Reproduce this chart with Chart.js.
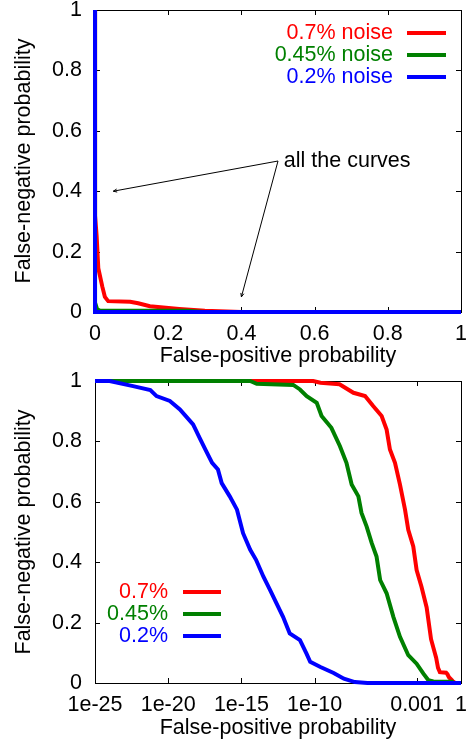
<!DOCTYPE html>
<html lang="en">
<head>
<meta charset="UTF-8">
<title>False-negative vs false-positive probability</title>
<script src="https://cdn.jsdelivr.net/npm/chart.js"></script>
<style>
  body { margin: 0; background: #fff; }
  canvas { display: block; }
</style>
</head>
<body>
<canvas id="linChart" width="473" height="370"></canvas>
<canvas id="logChart" width="473" height="372"></canvas>
<script>
// noise levels and their colours
const noiseLevels = ['0.7%', '0.45%', '0.2%'];
const lineColors = ['#ff0000', '#008000', '#0000ff'];

// (false-positive, false-negative) pairs
const fp07 = [1e-25, 6e-15, 8e-11, 2.5e-10, 5e-9, 4.5e-8, 2.8e-7, 1e-6, 3.8e-6, 8.3e-6, 1.4e-5, 3.1e-5, 6.8e-5, 1.5e-4, 2.5e-4, 5.5e-4, 9.3e-4, 2e-3, 4.5e-3, 9e-3, 0.02, 0.027, 0.036, 0.096, 0.118, 0.15, 0.23, 0.3, 0.4, 1];
const fn07 = [1, 1, 1, 0.994, 0.989, 0.961, 0.95, 0.917, 0.884, 0.839, 0.773, 0.729, 0.657, 0.574, 0.507, 0.452, 0.374, 0.319, 0.25, 0.145, 0.084, 0.05, 0.036, 0.034, 0.029, 0.019, 0.01, 0.004, 0, 0];

const fp045 = [1e-25, 4e-15, 1.1e-14, 3.5e-12, 1e-11, 2.9e-11, 1.4e-10, 3e-10, 1.4e-9, 5.4e-9, 1.5e-8, 3.4e-8, 9.8e-8, 1.6e-7, 3.6e-7, 8e-7, 1.7e-6, 3e-6, 8.3e-6, 2.4e-5, 6.8e-5, 2.5e-4, 9.3e-4, 2.7e-3, 5.9e-3, 0.013, 0.25, 0.3, 1];
const fn045 = [1, 1, 0.991, 0.987, 0.972, 0.95, 0.928, 0.884, 0.845, 0.784, 0.729, 0.657, 0.618, 0.563, 0.518, 0.463, 0.419, 0.341, 0.297, 0.219, 0.153, 0.092, 0.064, 0.031, 0.009, 0.005, 0.004, 0, 0];

const fp02 = [1e-25, 1e-24, 4e-23, 6e-22, 1.6e-21, 1.3e-20, 6.3e-20, 5e-19, 1.6e-18, 4e-18, 1e-17, 2.5e-17, 4.5e-17, 1.6e-16, 5e-16, 1.3e-15, 4e-15, 1e-14, 3.2e-14, 9e-14, 2.5e-13, 7e-13, 2e-12, 1e-11, 2.8e-11, 5e-11, 2.5e-10, 2e-9, 1e-8, 5.6e-8, 4e-7, 1];
const fn02 = [1, 1, 0.983, 0.97, 0.95, 0.934, 0.906, 0.856, 0.806, 0.767, 0.729, 0.707, 0.662, 0.618, 0.574, 0.496, 0.441, 0.408, 0.352, 0.308, 0.264, 0.219, 0.164, 0.142, 0.097, 0.07, 0.053, 0.033, 0.014, 0.003, 0, 0];

// axis ticks
const linTicks = [0, 0.2, 0.4, 0.6, 0.8, 1];
const linTickLabels = ['0', '0.2', '0.4', '0.6', '0.8', '1'];
const logTicks = [1e-25, 1e-20, 1e-15, 1e-10, 1e-3, 1];
const logTickLabels = ['1e-25', '1e-20', '1e-15', '1e-10', '0.001', '1'];

// annotation on the linear plot
const noteText = 'all the curves';
const noteAt = [0.516, 0.5];
const arrowFrom = [0.5, 0.5];
const arrowTargets = [[0.05, 0.4], [0.4, 0.05]];

Chart.defaults.font.family = "'Liberation Sans', Arial, sans-serif";
Chart.defaults.font.size = 21.5;
Chart.defaults.color = '#000';

const seriesFp = [fp07, fp045, fp02];
const seriesFn = [fn07, fn045, fn02];

function makeDatasets(suffix) {
  return noiseLevels.map((lvl, i) => ({
    label: lvl + suffix,
    data: seriesFp[i].map((x, j) => ({ x: x, y: seriesFn[i][j] })),
    borderColor: lineColors[i],
    backgroundColor: lineColors[i],
    borderWidth: 4,
    pointRadius: 0,
    fill: false,
    tension: 0,
    clip: false,
    order: i + 1 // blue ends up drawn last, as in gnuplot
  })).map((d, i) => Object.assign(d, { order: 3 - i }));
}

// border box, inward ticks on all sides, in-plot legend and arrows
const gnuplotFrame = {
  id: 'gnuplotFrame',
  beforeDatasetsDraw(chart) {
    const { ctx, chartArea: a, scales } = chart;
    ctx.save();
    ctx.strokeStyle = '#000';
    ctx.lineWidth = 1;
    ctx.strokeRect(a.left + 0.5, a.top + 0.5, a.right - a.left, a.bottom - a.top);
    ctx.beginPath();
    scales.x.ticks.forEach(t => {
      const px = Math.round(scales.x.getPixelForValue(t.value)) + 0.5;
      ctx.moveTo(px, a.bottom); ctx.lineTo(px, a.bottom - 5);
      ctx.moveTo(px, a.top); ctx.lineTo(px, a.top + 5);
    });
    scales.y.ticks.forEach(t => {
      const py = Math.round(scales.y.getPixelForValue(t.value)) + 0.5;
      ctx.moveTo(a.left, py); ctx.lineTo(a.left + 5, py);
      ctx.moveTo(a.right, py); ctx.lineTo(a.right - 5, py);
    });
    ctx.stroke();
    ctx.restore();
  },
  afterDatasetsDraw(chart, args, opts) {
    const { ctx, chartArea: a, scales } = chart;
    const lg = opts.legend;
    ctx.save();
    ctx.font = "21.5px 'Liberation Sans', Arial, sans-serif";
    ctx.textBaseline = 'middle';
    ctx.textAlign = 'right';
    const baseX = lg.side === 'right' ? a.right : a.left;
    chart.data.datasets.forEach((ds, i) => {
      const y = a.top + lg.firstRow + i * lg.rowGap;
      ctx.fillStyle = ds.borderColor;
      ctx.fillText(ds.label, baseX + lg.textEnd, y);
      ctx.strokeStyle = ds.borderColor;
      ctx.lineWidth = 4;
      ctx.beginPath();
      ctx.moveTo(baseX + lg.sampleFrom, y);
      ctx.lineTo(baseX + lg.sampleTo, y);
      ctx.stroke();
    });
    if (opts.note) {
      const sx = scales.x, sy = scales.y;
      const x0 = sx.getPixelForValue(arrowFrom[0]);
      const y0 = sy.getPixelForValue(arrowFrom[1]);
      ctx.strokeStyle = '#000';
      ctx.lineWidth = 1;
      arrowTargets.forEach(tg => {
        const x1 = sx.getPixelForValue(tg[0]);
        const y1 = sy.getPixelForValue(tg[1]);
        const ang = Math.atan2(y1 - y0, x1 - x0);
        ctx.beginPath();
        ctx.moveTo(x0, y0);
        ctx.lineTo(x1, y1);
        ctx.lineTo(x1 - 4 * Math.cos(ang - 0.4), y1 - 4 * Math.sin(ang - 0.4));
        ctx.moveTo(x1, y1);
        ctx.lineTo(x1 - 4 * Math.cos(ang + 0.4), y1 - 4 * Math.sin(ang + 0.4));
        ctx.stroke();
      });
      ctx.fillStyle = '#000';
      ctx.textAlign = 'left';
      ctx.fillText(noteText, sx.getPixelForValue(noteAt[0]), sy.getPixelForValue(noteAt[1]));
    }
    ctx.restore();
  }
};

function axisX(type, min, ticks, labels, height) {
  return {
    type: type,
    min: min,
    max: 1,
    afterBuildTicks: s => { s.ticks = ticks.map(v => ({ value: v })); },
    afterFit: s => { s.height = height; s.paddingLeft = 0; s.paddingRight = 0; },
    grid: { display: false, drawTicks: false },
    border: { display: false },
    ticks: {
      autoSkip: false, maxRotation: 0, padding: 9,
      callback: (v, i) => labels[i]
    },
    title: { display: true, text: 'False-positive probability', padding: { top: 0, bottom: 1.5 } }
  };
}

function axisY() {
  return {
    type: 'linear',
    min: 0,
    max: 1,
    afterBuildTicks: s => { s.ticks = linTicks.map(v => ({ value: v })); },
    afterFit: s => { s.width = 95; s.paddingTop = 0; s.paddingBottom = 0; },
    grid: { display: false, drawTicks: false },
    border: { display: false },
    ticks: { autoSkip: false, padding: 13, callback: (v, i) => linTickLabels[i] },
    title: { display: true, text: 'False-negative probability', padding: { top: 11.5, bottom: 0 } }
  };
}

new Chart(document.getElementById('linChart'), {
  type: 'line',
  data: { datasets: makeDatasets(' noise') },
  options: {
    responsive: false,
    animation: false,
    layout: { padding: { top: 10, right: 12, left: 0, bottom: 0 } },
    scales: {
      x: axisX('linear', 0, linTicks, linTickLabels, 58),
      y: axisY()
    },
    plugins: {
      legend: { display: false },
      tooltip: { enabled: false },
      gnuplotFrame: {
        legend: { side: 'right', textEnd: -68, sampleFrom: -54, sampleTo: -15, firstRow: 23, rowGap: 22 },
        note: true
      }
    }
  },
  plugins: [gnuplotFrame]
});

new Chart(document.getElementById('logChart'), {
  type: 'line',
  data: { datasets: makeDatasets('') },
  options: {
    responsive: false,
    animation: false,
    layout: { padding: { top: 11, right: 12, left: 0, bottom: 0 } },
    scales: {
      x: axisX('logarithmic', 1e-25, logTicks, logTickLabels, 59),
      y: axisY()
    },
    plugins: {
      legend: { display: false },
      tooltip: { enabled: false },
      gnuplotFrame: {
        legend: { side: 'left', textEnd: 73, sampleFrom: 88, sampleTo: 126, firstRow: 211, rowGap: 22 },
        note: false
      }
    }
  },
  plugins: [gnuplotFrame]
});
</script>
</body>
</html>
